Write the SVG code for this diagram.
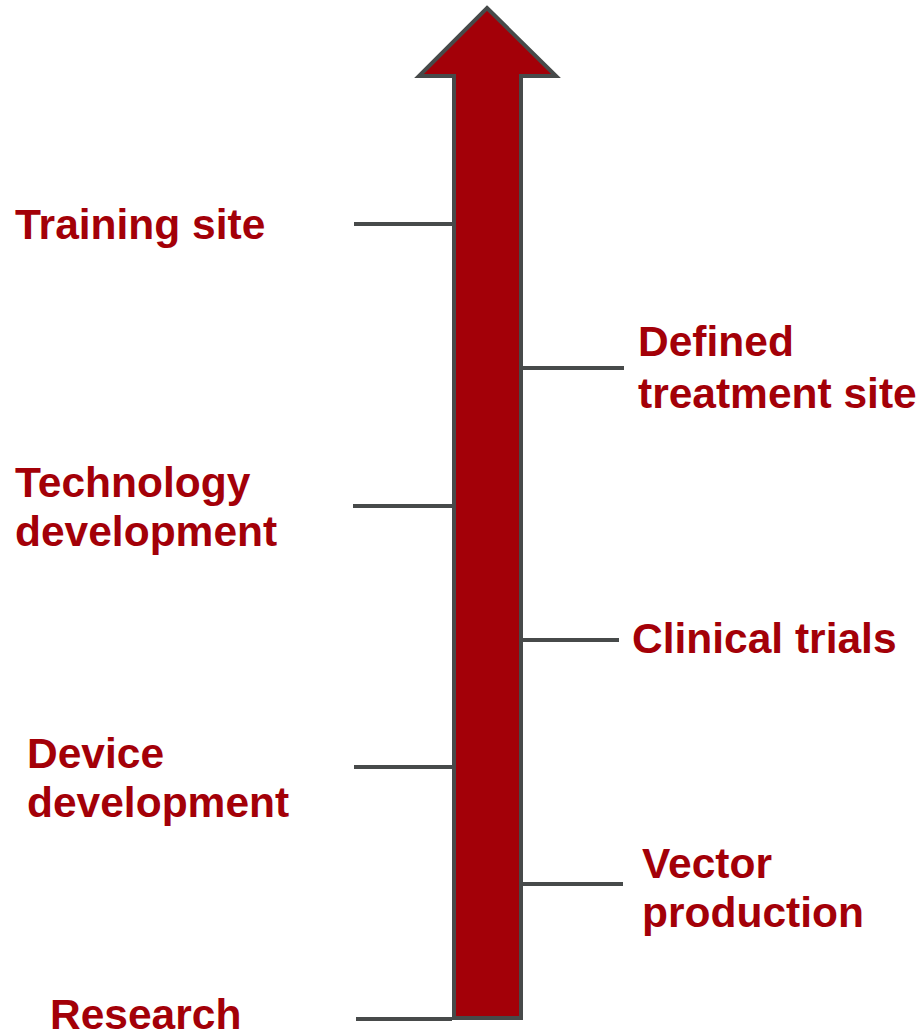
<svg xmlns="http://www.w3.org/2000/svg" width="920" height="1033" viewBox="0 0 920 1033">
<style>
.lbl{font-family:"Liberation Sans",Arial,sans-serif;font-weight:bold;font-size:42.5px;fill:#A30008}
.tick{stroke:#474A4A;stroke-width:4;fill:none}
</style>
<rect width="920" height="1033" fill="#ffffff"/>
<g id="connectors">
<line class="tick" x1="354" y1="224" x2="452" y2="224"/>
<line class="tick" x1="353" y1="506" x2="452" y2="506"/>
<line class="tick" x1="354" y1="767" x2="452" y2="767"/>
<line class="tick" x1="356" y1="1019" x2="452" y2="1019"/>
<line class="tick" x1="523" y1="368" x2="624" y2="368"/>
<line class="tick" x1="523" y1="640" x2="619" y2="640"/>
<line class="tick" x1="523" y1="884" x2="623" y2="884"/>
</g>
<g id="arrow">
<polygon points="487,8 556,76 521,76 521,1018 454,1018 454,76 419,76" fill="#A30008" stroke="#474A4A" stroke-width="4" stroke-linejoin="miter"/>
</g>
<g id="training"><text class="lbl" x="15" y="239">Training site</text></g>
<g id="defined"><text class="lbl" x="638" y="356">Defined</text><text class="lbl" x="638" y="408">treatment site</text></g>
<g id="technology"><text class="lbl" x="15" y="497">Technology</text><text class="lbl" x="15" y="546">development</text></g>
<g id="clinical"><text class="lbl" x="632" y="653">Clinical trials</text></g>
<g id="device"><text class="lbl" x="27" y="768">Device</text><text class="lbl" x="27" y="817">development</text></g>
<g id="vector"><text class="lbl" x="642" y="878">Vector</text><text class="lbl" x="642" y="927">production</text></g>
<g id="research"><text class="lbl" x="50" y="1029">Research</text></g>
</svg>
